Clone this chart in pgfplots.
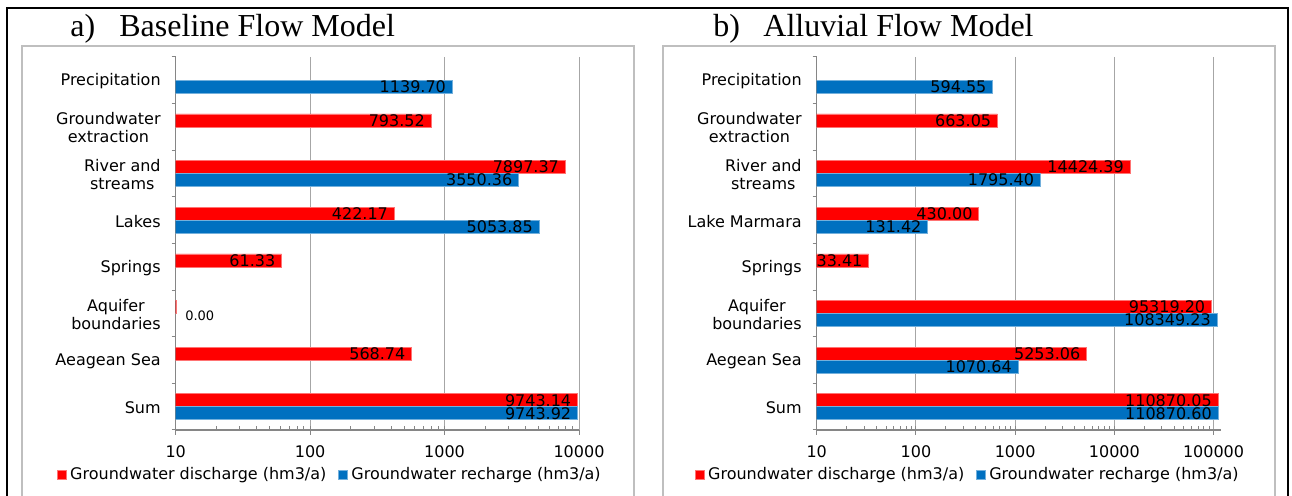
\documentclass[border=0pt]{standalone}
\usepackage{pgfplots}
\pgfplotsset{compat=1.18}
\usepackage{fontspec}
\setmainfont{DejaVu Sans}
\newfontfamily\titlefont{Liberation Serif}
\newcommand\fs{\fontsize{8}{9}\selectfont}

\definecolor{disred}{HTML}{FF0000}
\definecolor{recblue}{HTML}{0070C0}
\definecolor{axgray}{HTML}{868686}
\definecolor{gridgray}{HTML}{A6A6A6}
\definecolor{boxgray}{HTML}{BFBFBF}

\pgfplotsset{
    flowpanel/.style={
        scale only axis,
        height=186.5pt,
        xmin=10,
        ymin=-0.5, ymax=7.5,
        y dir=reverse,
        xbar=0pt,
        bar width=6.5pt,
        axis x line*=bottom,
        axis y line*=left,
        axis line style={-, draw=axgray, line width=0.6pt},
        xmajorgrids,
        major x grid style={draw=gridgray, line width=0.5pt},
        tick align=outside,
        major tick length=2.5pt,
        minor tick length=2pt,
        minor x tick style={yshift=2pt},
        every tick/.style={draw=axgray, line width=0.5pt},
        ytick={0,...,7},
        ytick style={draw=none},
        minor ytick={-0.5,0.5,...,7.5},
        minor y tick style={draw=axgray},
        tick label style={font=\fs, text=black},
        yticklabel style={align=center, xshift=-1.5pt, yshift=-0.5pt},
        xticklabel style={yshift=-2pt},
        point meta=explicit symbolic,
        nodes near coords,
        every node near coord/.append style={anchor=east, font=\fs, text=black, inner sep=1pt, xshift=-2pt},
        legend columns=2,
        legend style={draw=none, fill=none, font=\fs, anchor=center,
            /tikz/every even column/.append style={column sep=4pt}},
        legend image code/.code={\fill[##1] (0pt,-2.1pt) rectangle (4.2pt,2.1pt);},
    },
    redbar/.style={fill=disred, draw=disred!55!white, line width=0.3pt, bar shift=3.25pt},
    bluebar/.style={fill=recblue, draw=recblue!55!white, line width=0.3pt, bar shift=-3.25pt},
}

\begin{document}
\begin{tikzpicture}
\useasboundingbox (0pt,0pt) rectangle (646pt,248pt);

% frames
\draw[black, line width=1pt] (3.5pt,-2pt) -- (3.5pt,244.2pt) -- (644.2pt,244.2pt) -- (644.2pt,-2pt);
\draw[boxgray, line width=1pt] (11pt,-2pt) -- (11pt,225pt) -- (317pt,225pt) -- (317pt,-2pt);
\draw[boxgray, line width=1pt] (331.5pt,-2pt) -- (331.5pt,225pt) -- (637.5pt,225pt) -- (637.5pt,-2pt);

% titles
\node[anchor=base west, inner sep=0pt, font=\titlefont\fontsize{16}{18}\selectfont] at (35pt,229.5pt) {a)};
\node[anchor=base west, inner sep=0pt, font=\titlefont\fontsize{16}{18}\selectfont] at (59.5pt,229.5pt) {Baseline Flow Model};
\node[anchor=base west, inner sep=0pt, font=\titlefont\fontsize{16}{18}\selectfont] at (356.5pt,229.5pt) {b)};
\node[anchor=base west, inner sep=0pt, font=\titlefont\fontsize{16}{18}\selectfont] at (381.5pt,229.5pt) {Alluvial Flow Model};

% a) Baseline
\begin{axis}[xmode=log, flowpanel,
    at={(87.85pt,33pt)}, anchor=south west,
    width=201.65pt,
    xmax=10000,
    xtick={10,100,1000,10000},
    xticklabels={10,100,1000,10000},
    yticklabels={Precipitation,{Groundwater\\extraction},{River and\\streams},Lakes,Springs,{Aquifer\\boundaries},Aeagean Sea,Sum},
    legend style={at={(0.385,-0.12)}},
]
\addplot[redbar] coordinates {
    (793.52,1) [793.52]
    (7897.37,2) [7897.37]
    (422.17,3) [422.17]
    (61.33,4) [61.33]
    (10.1,5) [\phantom{0}]
    (568.74,6) [568.74]
    (9743.14,7) [9743.14]
};
\addlegendentry{Groundwater discharge (hm3/a)}
\addplot[bluebar] coordinates {
    (1139.70,0) [1139.70]
    (3550.36,2) [3550.36]
    (5053.85,3) [5053.85]
    (9743.92,7) [9743.92]
};
\addlegendentry{Groundwater recharge (hm3/a)}
\node[anchor=west, inner sep=0pt, font=\fontsize{6.5}{7}\selectfont] at (axis cs:11.7,5.05) {0.00};
\end{axis}

% b) Alluvial
\begin{axis}[xmode=log, flowpanel,
    at={(408.35pt,33pt)}, anchor=south west,
    width=202.35pt,
    xmax=120000,
    xtick={10,100,1000,10000,100000},
    xticklabels={10,100,1000,10000,100000},
    yticklabels={Precipitation,{Groundwater\\extraction},{River and\\streams},Lake Marmara,Springs,{Aquifer\\boundaries},Aegean Sea,Sum},
    legend style={at={(0.376,-0.12)}},
]
\addplot[redbar] coordinates {
    (663.05,1) [663.05]
    (14424.39,2) [14424.39]
    (430.00,3) [430.00]
    (33.41,4) [33.41]
    (95319.20,5) [95319.20]
    (5253.06,6) [5253.06]
    (110870.05,7) [110870.05]
};
\addlegendentry{Groundwater discharge (hm3/a)}
\addplot[bluebar] coordinates {
    (594.55,0) [594.55]
    (1795.40,2) [1795.40]
    (131.42,3) [131.42]
    (108349.23,5) [108349.23]
    (1070.64,6) [1070.64]
    (110870.60,7) [110870.60]
};
\addlegendentry{Groundwater recharge (hm3/a)}
\end{axis}
\end{tikzpicture}
\end{document}
